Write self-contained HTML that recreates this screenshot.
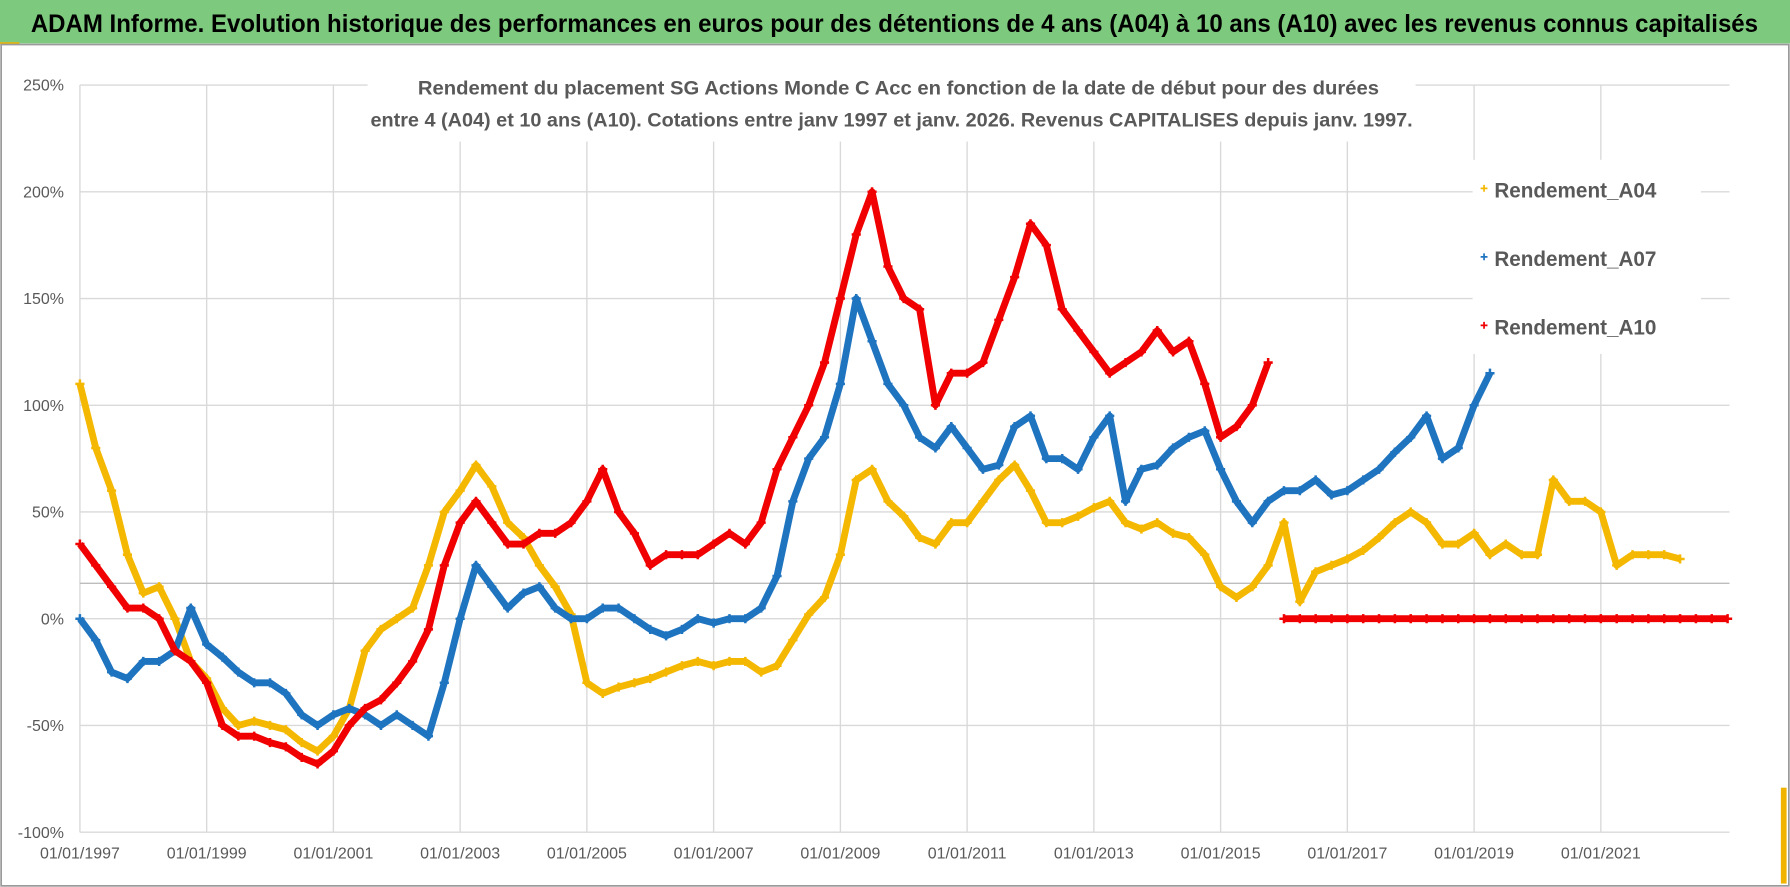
<!DOCTYPE html>
<html><head><meta charset="utf-8"><title>ADAM Informe chart</title>
<style>
html,body{margin:0;padding:0;background:#fff;}
svg{display:block;}
text{font-family:"Liberation Sans Narrow","Liberation Sans",sans-serif;}
</style></head>
<body>
<svg id="chart" width="1790" height="887" viewBox="0 0 1568 777" preserveAspectRatio="none" xmlns="http://www.w3.org/2000/svg">
<rect x="0" y="0" width="1568" height="777" fill="#fff"/>
<rect x="0" y="0" width="1568" height="38" fill="#7dc97d"/>
<rect x="0" y="37" width="17" height="2" fill="#f0b400"/>
<text x="27" y="28" font-size="22" font-weight="bold" fill="#000" textLength="1513" lengthAdjust="spacingAndGlyphs">ADAM Informe. Evolution historique des performances en euros pour des détentions de 4 ans (A04) à 10 ans (A10) avec les revenus connus capitalisés</text>
<rect x="1" y="39" width="1566" height="737" fill="none" stroke="#9a9a9a" stroke-width="1.5"/>
<rect x="1560" y="690" width="5" height="84" fill="#f0b400"/>
<g id="grid"></g>
<line x1="70" y1="511" x2="1515" y2="511" stroke="#bdbdbd" stroke-width="1.2"/>
<g id="yticks"></g>
<g id="xticks"></g>
<rect x="322" y="60" width="918" height="64" fill="#fff"/>
<text x="787" y="83" font-size="17" font-weight="bold" fill="#595959" text-anchor="middle" textLength="842" lengthAdjust="spacingAndGlyphs">Rendement du placement SG Actions Monde C Acc en fonction de la date de début pour des durées</text>
<text x="781" y="111" font-size="17" font-weight="bold" fill="#595959" text-anchor="middle" textLength="913" lengthAdjust="spacingAndGlyphs">entre 4 (A04) et 10 ans (A10). Cotations entre janv 1997 et janv. 2026. Revenus CAPITALISES depuis janv. 1997.</text>
<g id="series"></g>
<rect x="1290" y="140" width="200" height="170" fill="#fff"/>
<g id="legend"></g>
</svg>
<script>
// ---- data (quarterly starting dates) ----
const startA04 = 1997.0;
const valuesA04 = [110,80,60,30, 12,15,0,-20, -28,-42,-50,-48, -50,-52,-58,-62, -55,-42,-15,-5, 0,5,25,50, 60,72,62,45, 38,25,15,2, -30,-35,-32,-30, -28,-25,-22,-20, -22,-20,-20,-25, -22,-10,2,10, 30,65,70,55, 48,38,35,45, 45,55,65,72, 60,45,45,48, 52,55,45,42, 45,40,38,30, 15,10,15,25, 45,8,22,25, 28,32,38,45, 50,45,35,35, 40,30,35,30, 30,65,55,55, 50,25,30,30, 30,28];
const startA07 = 1997.0;
const valuesA07 = [0,-10,-25,-28, -20,-20,-15,5, -12,-18,-25,-30, -30,-35,-45,-50, -45,-42,-45,-50, -45,-50,-55,-30, 0,25,15,5, 12,15,5,0, 0,5,5,0, -5,-8,-5,0, -2,0,0,5, 20,55,75,85, 110,150,130,110, 100,85,80,90, 80,70,72,90, 95,75,75,70, 85,95,55,70, 72,80,85,88, 70,55,45,55, 60,60,65,58, 60,65,70,78, 85,95,75,80, 100,115];
const startA10 = 1997.0;
const valuesA10 = [35,25,15,5, 5,0,-15,-20, -30,-50,-55,-55, -58,-60,-65,-68, -62,-50,-42,-38, -30,-20,-5,25, 45,55,45,35, 35,40,40,45, 55,70,50,40, 25,30,30,30, 35,40,35,45, 70,85,100,120, 150,180,200,165, 150,145,100,115, 115,120,140,160, 185,175,145,135, 125,115,120,125, 135,125,130,110, 85,90,100,120];
const startA10zero = 2016.0;
const valuesA10zero = [0,0,0,0, 0,0,0,0, 0,0,0,0, 0,0,0,0, 0,0,0,0, 0,0,0,0, 0,0,0,0, 0];
const yTicks = [250,200,150,100,50,0,-50,-100];
const xTickYears = [1997,1999,2001,2003,2005,2007,2009,2011,2013,2015,2017,2019,2021];
const legendNames = ["Rendement_A04","Rendement_A07","Rendement_A10"];
const colors = {A04:"#f5b800",A07:"#1f74c0",A10:"#f00000"};

// ---- axes ----
const X0=70, X1=1515, YEAR0=1997, YEAR1=2023.03;
function xs(yr){return X0+(yr-YEAR0)/(YEAR1-YEAR0)*(X1-X0);}
function ys(v){return 542-(v/50)*93.5;}
const NS="http://www.w3.org/2000/svg";
function mk(tag,attrs,parent){const e=document.createElementNS(NS,tag);for(const k in attrs)e.setAttribute(k,attrs[k]);parent.appendChild(e);return e;}

const grid=document.getElementById('grid');
yTicks.forEach(v=>{
  const l=mk('line',{x1:X0,x2:X1,y1:ys(v),y2:ys(v),stroke:'#d9d9d9','stroke-width':1.2},grid);
  
  
  const t=mk('text',{x:56,y:ys(v)+5,'font-size':14,fill:'#595959','text-anchor':'end'},document.getElementById('yticks'));
  t.textContent=v+'%';
  
  
});
xTickYears.forEach(yr=>{
  const l=mk('line',{x1:xs(yr),x2:xs(yr),y1:ys(250),y2:ys(-100),stroke:'#d9d9d9','stroke-width':1.2},grid);
  
  
  const t=mk('text',{x:xs(yr),y:752,'font-size':14,fill:'#595959','text-anchor':'middle'},document.getElementById('xticks'));
  t.textContent='01/01/'+yr;
  
  
});

// ---- series ----
const sg=document.getElementById('series');
function drawSeries(name,start,vals,color,drawLine){
  const g=mk('g',{},sg);
  
  
  const pts=vals.map((v,i)=>[xs(start+i*0.25),ys(v)]);
  if(drawLine){
    const pl=mk('polyline',{points:pts.map(p=>p.join(',')).join(' '),fill:'none',stroke:color,'stroke-width':6,'stroke-linejoin':'round'},g);
    
    
  }
  pts.forEach(p=>{
    const m=mk('path',{d:`M${p[0]-4},${p[1]}h8M${p[0]},${p[1]-4}v8`,stroke:color,'stroke-width':2.2},g);
    
    
  });
}
drawSeries('a04',startA04,valuesA04,colors.A04,true);
drawSeries('a07',startA07,valuesA07,colors.A07,true);
drawSeries('a10',startA10,valuesA10,colors.A10,true);
drawSeries('a10-zero',startA10zero,valuesA10zero,colors.A10,true);

// ---- legend ----
const lg=document.getElementById('legend');
const lc=[colors.A04,colors.A07,colors.A10];
legendNames.forEach((n,i)=>{
  const y=166+i*60;
  const m=mk('path',{d:`M1297,${y-1}h6M1300,${y-4}v6`,stroke:lc[i],'stroke-width':1.5},lg);
  
  
  const t=mk('text',{x:1309,y:y+7,'font-size':19,'font-weight':'bold',fill:'#595959',textLength:142,lengthAdjust:'spacingAndGlyphs'},lg);
  t.textContent=n;
  
  
});
</script>
</body></html>
